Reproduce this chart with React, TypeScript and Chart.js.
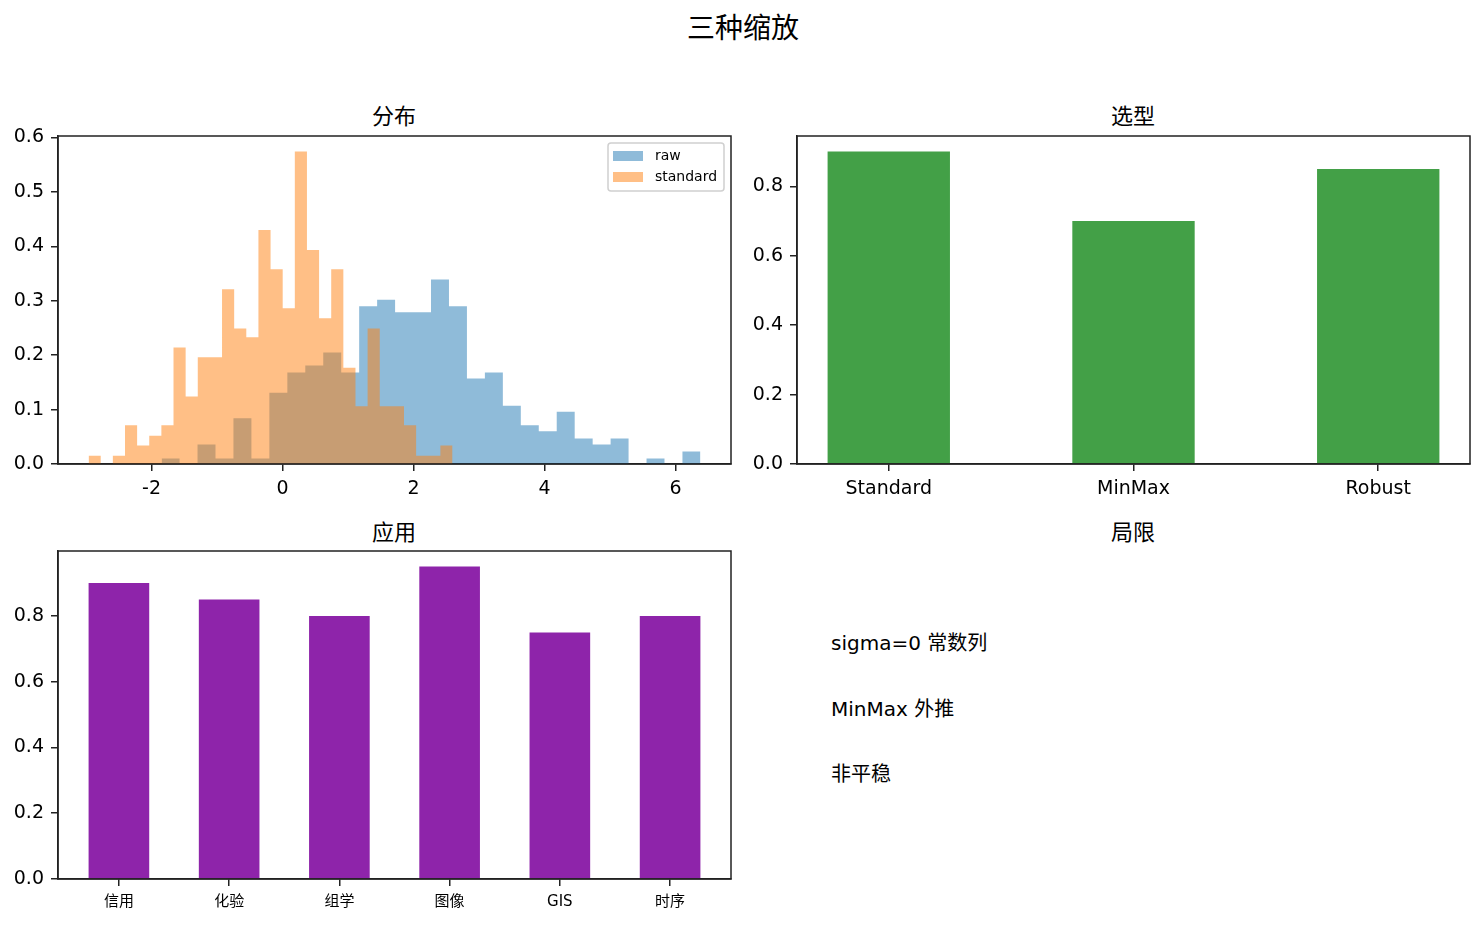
import { useEffect, useRef } from "react"
import { Chart, registerables } from "chart.js"

Chart.register(...registerables)

const FONT = '"DejaVu Sans", "Noto Sans CJK SC", sans-serif'
const AXIS = "#222"

// histograms, 30 bins each, density=True
const rawRange = [-1.847, 6.38]
const rawDensity = [
  0.01, 0, 0.036, 0.01, 0.084, 0.01, 0.131, 0.168, 0.181, 0.205,
  0.168, 0.29, 0.302, 0.279, 0.279, 0.339, 0.29, 0.157, 0.168, 0.107,
  0.071, 0.06, 0.096, 0.047, 0.036, 0.047, 0, 0.01, 0, 0.023,
]
const standardRange = [-2.962, 2.595]
const standardDensity = [
  0.015, 0, 0.015, 0.071, 0.034, 0.052, 0.071, 0.214, 0.124, 0.196,
  0.196, 0.321, 0.249, 0.233, 0.43, 0.358, 0.286, 0.574, 0.393, 0.268,
  0.358, 0.177, 0.106, 0.249, 0.106, 0.106, 0.071, 0.015, 0.015, 0.034,
]
const histXTicks = [-2, 0, 2, 4, 6]
const histYTicks = [0, 0.1, 0.2, 0.3, 0.4, 0.5, 0.6]

const scalerNames = ["Standard", "MinMax", "Robust"]
const scalerScores = [0.9, 0.7, 0.85]

const fieldNames = ["信用", "化验", "组学", "图像", "GIS", "时序"]
const fieldScores = [0.9, 0.85, 0.8, 0.95, 0.75, 0.8]

const barYTicks = [0, 0.2, 0.4, 0.6, 0.8]
const limitNotes = ["sigma=0 常数列", "MinMax 外推", "非平稳"]

Chart.defaults.font.family = FONT
Chart.defaults.color = "#000"

// histogram as a filled step outline
function stepPoints(range: number[], dens: number[]) {
  const w = (range[1] - range[0]) / dens.length
  const pts = [{ x: range[0], y: 0 }]
  dens.forEach((d, i) => pts.push({ x: range[0] + i * w, y: d }))
  pts.push({ x: range[1], y: 0 })
  return pts
}

function axis(ticks: number[], fmt: (v: number) => string, size: number, fit: (s: any) => void) {
  return {
    offset: false,
    afterBuildTicks: (s: any) => {
      s.ticks = ticks.map((v) => ({ value: v }))
    },
    afterFit: fit,
    grid: {
      offset: false,
      drawOnChartArea: false,
      color: AXIS,
      lineWidth: 1.5,
      tickLength: 7,
      tickWidth: 1.5,
    },
    border: { display: true, color: AXIS, width: 1.5 },
    ticks: { color: "#000", font: { size }, padding: 7, autoSkip: false, maxRotation: 0, callback: fmt },
  }
}

const framePlugin = {
  id: "frame",
  afterDraw(chart: any) {
    const { ctx, chartArea: a } = chart
    ctx.save()
    ctx.strokeStyle = AXIS
    ctx.lineWidth = 1.5
    ctx.strokeRect(a.left, a.top, a.right - a.left, a.bottom - a.top)
    ctx.restore()
  },
}

const boxLegend = {
  id: "boxLegend",
  afterDraw(chart: any) {
    const { ctx, chartArea: a } = chart
    const w = 116
    const h = 48
    const x = a.right - 7 - w
    const y = a.top + 7
    ctx.save()
    ctx.fillStyle = "rgba(255,255,255,0.8)"
    ctx.strokeStyle = "#d0d0d0"
    ctx.lineWidth = 1.5
    ctx.beginPath()
    ctx.roundRect(x, y, w, h, 3)
    ctx.fill()
    ctx.stroke()
    ctx.font = "14px " + FONT
    ctx.textBaseline = "middle"
    chart.data.datasets.forEach((ds: any, i: number) => {
      const cy = y + 13 + i * 21
      ctx.fillStyle = ds.backgroundColor
      ctx.fillRect(x + 5, cy - 5, 30, 10)
      ctx.fillStyle = "#000"
      ctx.fillText(ds.label, x + 47, cy)
    })
    ctx.restore()
  },
}

const fmt1 = (v: number) => v.toFixed(1)

function histConfig(): any {
  const lo = Math.min(rawRange[0], standardRange[0])
  const hi = Math.max(rawRange[1], standardRange[1])
  const pad = (hi - lo) * 0.05
  const ymax = Math.max(...rawDensity, ...standardDensity) * 1.05
  return {
    type: "line",
    data: {
      datasets: [
        {
          label: "raw",
          data: stepPoints(rawRange, rawDensity),
          stepped: "before",
          fill: "origin",
          backgroundColor: "rgba(31,119,180,0.5)",
          borderColor: "transparent",
          borderWidth: 0,
          pointRadius: 0,
          order: 1,
        },
        {
          label: "standard",
          data: stepPoints(standardRange, standardDensity),
          stepped: "before",
          fill: "origin",
          backgroundColor: "rgba(255,127,14,0.5)",
          borderColor: "transparent",
          borderWidth: 0,
          pointRadius: 0,
          order: 0,
        },
      ],
    },
    options: {
      responsive: false,
      animation: false,
      layout: { padding: { top: 36, left: 0, right: 11, bottom: 12 } },
      plugins: { legend: { display: false }, tooltip: { enabled: false } },
      scales: {
        x: {
          type: "linear",
          min: lo - pad,
          max: hi + pad,
          ...axis(histXTicks, (v) => String(v), 19, (s) => (s.height = 44)),
        },
        y: {
          min: 0,
          max: ymax,
          ...axis(histYTicks, fmt1, 19, (s) => (s.width = 58)),
        },
      },
    },
    plugins: [framePlugin, boxLegend],
  }
}

function barConfig(
  names: string[],
  scores: number[],
  width: number,
  color: string,
  tickSize: number,
  yWidth: number,
  xHeight: number,
  padding: any
): any {
  const lo = -width / 2
  const hi = names.length - 1 + width / 2
  const pad = (hi - lo) * 0.05
  return {
    type: "bar",
    data: {
      datasets: [
        {
          data: scores.map((v, i) => ({ x: i, y: v })),
          backgroundColor: color,
          barPercentage: width,
          categoryPercentage: 1,
        },
      ],
    },
    options: {
      responsive: false,
      animation: false,
      layout: { padding },
      plugins: { legend: { display: false }, tooltip: { enabled: false } },
      scales: {
        x: {
          type: "linear",
          min: lo - pad,
          max: hi + pad,
          ...axis(
            names.map((_, i) => i),
            (v) => names[v] ?? "",
            tickSize,
            (s) => (s.height = xHeight)
          ),
        },
        y: {
          min: 0,
          max: Math.max(...scores) * 1.05,
          ...axis(barYTicks, fmt1, 19, (s) => (s.width = yWidth)),
        },
      },
    },
    plugins: [framePlugin],
  }
}

function Panel({ make, left, top, width, height }: any) {
  const ref = useRef<HTMLCanvasElement>(null)
  useEffect(() => {
    if (!ref.current) return
    const chart = new Chart(ref.current, make())
    return () => chart.destroy()
  }, [])
  return (
    <canvas
      ref={ref}
      width={width}
      height={height}
      style={{ position: "absolute", left, top, width, height }}
    />
  )
}

function Label({ text, x, y, size, center = true }: any) {
  return (
    <div
      style={{
        position: "absolute",
        left: x,
        top: y,
        transform: center ? "translate(-50%, -50%)" : "translateY(-50%)",
        fontSize: size,
        lineHeight: 1,
        fontFamily: FONT,
        whiteSpace: "nowrap",
        color: "#000",
      }}
    >
      {text}
    </div>
  )
}

export default function App() {
  return (
    <div
      style={{
        position: "absolute",
        left: 0,
        top: 0,
        width: 1484,
        height: 925,
        overflow: "hidden",
        background: "#fff",
      }}
    >
      <Label text="三种缩放" x={743} y={29} size={28} />
      <Label text="分布" x={394} y={117} size={22} />
      <Label text="选型" x={1133} y={117} size={22} />
      <Label text="应用" x={394} y={533} size={22} />
      <Label text="局限" x={1133} y={533} size={22} />
      <Panel make={histConfig} left={0} top={100} width={742} height={420} />
      <Panel
        make={() =>
          barConfig(scalerNames, scalerScores, 0.5, "#43a047", 19, 55, 44, {
            top: 36,
            left: 0,
            right: 14,
            bottom: 12,
          })
        }
        left={742}
        top={100}
        width={742}
        height={420}
      />
      <Panel
        make={() =>
          barConfig(fieldNames, fieldScores, 0.55, "#8e24aa", 15, 58, 30, {
            top: 36,
            left: 0,
            right: 11,
            bottom: 11,
          })
        }
        left={0}
        top={515}
        width={742}
        height={405}
      />
      {limitNotes.map((t, i) => (
        <Label key={t} text={t} x={831} y={643 + i * 65.5} size={20} center={false} />
      ))}
    </div>
  )
}
